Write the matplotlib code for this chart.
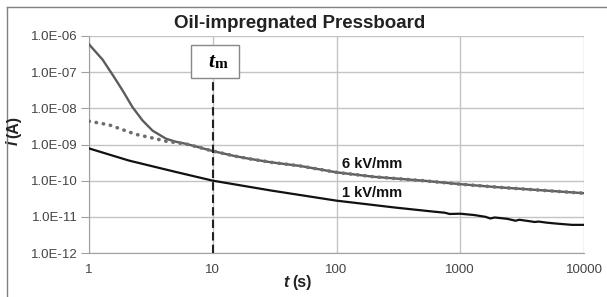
import matplotlib
matplotlib.use("Agg")
import matplotlib.pyplot as plt
from matplotlib.lines import Line2D
from matplotlib.patches import Rectangle
from matplotlib.ticker import FixedLocator, FuncFormatter

plt.rcParams['font.family'] = ['Liberation Sans', 'DejaVu Sans']

# 6 kV/mm, measured current (solid)
t_6kv = [1, 1.29, 1.6, 1.87, 2.25, 2.71, 3.27, 4.2, 5.0, 6.1, 7.5, 10, 15, 20, 30,
         51, 100, 200, 500, 1000, 2000, 5000, 10000]
i_6kv = [5.9e-7, 2.2e-7, 7.2e-8, 3.1e-8, 1.07e-8, 4.6e-9, 2.4e-9, 1.44e-9, 1.2e-9,
         1.04e-9, 8.6e-10, 6.6e-10, 4.8e-10, 4.0e-10, 3.2e-10, 2.55e-10, 1.7e-10,
         1.28e-10, 1.0e-10, 8.0e-11, 6.6e-11, 5.3e-11, 4.5e-11]

# 6 kV/mm, fitted (dotted)
t_fit = [1, 1.45, 2.4, 3.3, 4.2, 6.1, 7.5, 10, 15, 20, 30, 51, 100, 200, 500,
         1000, 2000, 5000, 10000]
i_fit = [4.4e-9, 3.5e-9, 1.9e-9, 1.5e-9, 1.23e-9, 1.03e-9, 8.6e-10, 6.6e-10,
         4.8e-10, 4.0e-10, 3.2e-10, 2.55e-10, 1.7e-10, 1.28e-10, 1.0e-10,
         8.0e-11, 6.6e-11, 5.3e-11, 4.5e-11]

# 1 kV/mm
t_1kv = [1, 2.1, 5, 10, 30, 100, 300, 600, 750, 820, 1000, 1300, 1600, 1750, 1900,
         2400, 2800, 3000, 3600, 4000, 4300, 5000, 6000, 8000, 10000]
i_1kv = [7.8e-10, 3.6e-10, 1.75e-10, 1.0e-10, 5.3e-11, 2.8e-11, 1.8e-11, 1.4e-11,
         1.3e-11, 1.2e-11, 1.22e-11, 1.12e-11, 1.0e-11, 9.0e-12, 9.6e-12, 8.8e-12,
         7.8e-12, 8.3e-12, 7.6e-12, 7.2e-12, 7.4e-12, 6.9e-12, 6.5e-12, 6.0e-12,
         6.0e-12]

t_m = 10
x_ticks = [1, 10, 100, 1000, 10000]
y_ticks = [1e-12, 1e-11, 1e-10, 1e-9, 1e-8, 1e-7, 1e-6]

W, H = 607, 297
fig = plt.figure(figsize=(W / 100, H / 100), dpi=100)
ax = fig.add_axes([89 / W, 44 / H, 495 / W, 217 / H])

ax.plot(t_6kv, i_6kv, color='#5c5c5c', lw=1.7, zorder=3)
ax.plot(t_fit, i_fit, color='#6e6e6e', lw=2.6, dashes=(0.1, 1.9),
        dash_capstyle='round', zorder=4)
ax.plot(t_1kv, i_1kv, color='#111111', lw=1.6, zorder=3)

ax.set_xscale('log')
ax.set_yscale('log')
ax.set_xlim(1, 10000)
ax.set_ylim(1e-12, 1e-6)
ax.xaxis.set_major_locator(FixedLocator(x_ticks))
ax.yaxis.set_major_locator(FixedLocator(y_ticks))
ax.xaxis.set_minor_locator(FixedLocator([]))
ax.yaxis.set_minor_locator(FixedLocator([]))
ax.xaxis.set_major_formatter(FuncFormatter(lambda v, p: f'{v:g}'))
ax.yaxis.set_major_formatter(FuncFormatter(lambda v, p: f'{v:.1E}'))
ax.tick_params(axis='both', labelsize=9.5, labelcolor='#444444', color='#a0a0a0')
ax.tick_params(axis='x', length=0, pad=8)
ax.tick_params(axis='y', length=6, pad=2)
ax.grid(True, color='#c4c4c4', lw=1)
for s in ['top', 'right']:
    ax.spines[s].set_visible(False)
for s in ['left', 'bottom']:
    ax.spines[s].set_color('#a0a0a0')

# t_m marker
ax.vlines(t_m, 1e-12, 6.8e-8, colors='#222222', lw=1.5, linestyles=(0, (4, 2)), zorder=5)
fig.add_artist(Rectangle((191 / W, 1 - 78 / H), 48 / W, 33 / H, transform=fig.transFigure,
                         facecolor='white', edgecolor='#888888', lw=1, zorder=6))
fig.text(214 / W, 1 - 67 / H, 't', family='Liberation Serif', fontsize=15.5,
         fontweight='bold', style='italic', ha='right', va='baseline', zorder=7)
fig.text(214.5 / W, 1 - 68 / H, 'm', family='Liberation Serif', fontsize=11,
         fontweight='bold', ha='left', va='baseline', zorder=7)

ax.text(342 / W, 1 - 168 / H, '6 kV/mm', transform=fig.transFigure, fontsize=10.5,
        fontweight='bold', color='#111111', va='baseline')
ax.text(342 / W, 1 - 197 / H, '1 kV/mm', transform=fig.transFigure, fontsize=10.5,
        fontweight='bold', color='#111111', va='baseline')

fig.text(300 / W, 1 - 23 / H, 'Oil-impregnated Pressboard', fontsize=13.5,
         fontweight='bold', color='#222222', ha='center', va='center')

# axis labels: italic symbol + upright unit
fig.text(289 / W, 1 - 287 / H, 't', fontsize=11.5, fontweight='bold', style='italic',
         color='#222222', ha='right', va='baseline')
fig.text(292 / W, 1 - 287 / H, '(s)', fontsize=11.5, fontweight='bold',
         color='#222222', ha='left', va='baseline')
fig.text(21 / W, 1 - 141 / H, 'i', fontsize=11.5, fontweight='bold', style='italic',
         color='#222222', rotation=90, ha='right', va='top')
fig.text(21 / W, 1 - 138 / H, '(A)', fontsize=11.5, fontweight='bold',
         color='#222222', rotation=90, ha='right', va='bottom')

# outer frame
fig.add_artist(Line2D([7 / W, 7 / W], [0, 1 - 7 / H], transform=fig.transFigure,
                      color='#808080', lw=1))
fig.add_artist(Line2D([7 / W, 1], [1 - 7 / H, 1 - 7 / H], transform=fig.transFigure,
                      color='#808080', lw=1))

fig.savefig('out.png', dpi=100)
